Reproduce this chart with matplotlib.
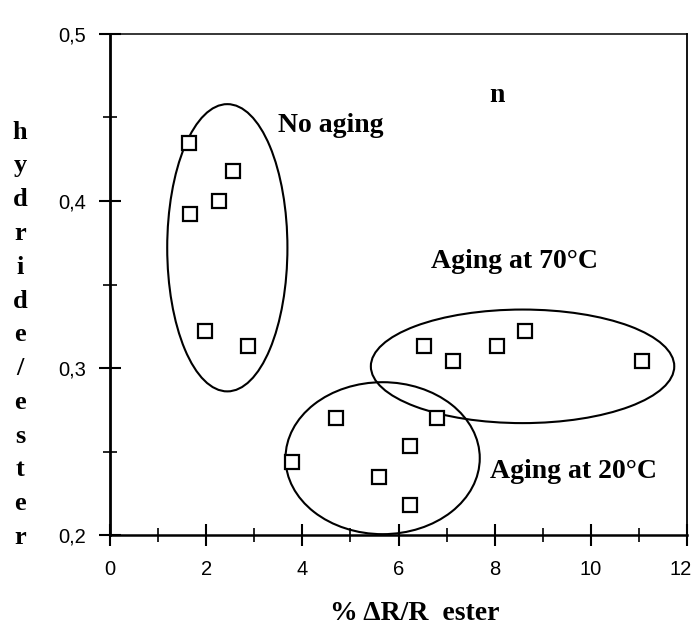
import matplotlib
matplotlib.use('Agg')
import matplotlib.pyplot as plt
from matplotlib.patches import Ellipse
from matplotlib.ticker import MultipleLocator, FuncFormatter

# measured points, % dR/R ester vs hydride/ester
no_aging_x = [1.65, 2.56, 2.27, 1.67, 1.98, 2.88]
no_aging_y = [0.435, 0.418, 0.400, 0.392, 0.322, 0.313]
aging70_x = [6.52, 7.13, 8.04, 8.63, 11.06]
aging70_y = [0.313, 0.304, 0.313, 0.322, 0.304]
aging20_x = [4.69, 3.79, 6.81, 6.23, 5.60, 6.23]
aging20_y = [0.270, 0.244, 0.270, 0.253, 0.235, 0.218]

# group outlines: (center x, center y, width, height)
groups = ['No aging', 'Aging at 70°C', 'Aging at 20°C']
ellipse_cx = [2.44, 8.58, 5.67]
ellipse_cy = [0.372, 0.301, 0.246]
ellipse_w = [2.5, 6.31, 4.04]
ellipse_h = [0.172, 0.068, 0.091]
label_x = [3.5, 6.67, 7.9]
label_y = [0.445, 0.364, 0.238]

ylabel_letters = list('hydride/ester')
x_max = 12

serif = 'Liberation Serif'
sans = 'Liberation Sans'
plt.rcParams['font.family'] = sans

fig = plt.figure(figsize=(6.96, 6.31), dpi=100)
ax = fig.add_axes([110 / 696, 96 / 631, 577 / 696, 501 / 631])

for xs, ys in [(no_aging_x, no_aging_y), (aging70_x, aging70_y), (aging20_x, aging20_y)]:
    ax.plot(xs, ys, ls='none', marker='s', ms=10.5, mfc='white', mec='black', mew=1.6, zorder=3)

for cx, cy, w, h in zip(ellipse_cx, ellipse_cy, ellipse_w, ellipse_h):
    ax.add_patch(Ellipse((cx, cy), w, h, fill=False, ec='black', lw=1.5, zorder=2))

for name, lx, ly in zip(groups, label_x, label_y):
    ax.text(lx, ly, name, family=serif, weight='bold', fontsize=20, va='center', ha='left')

ax.text(8.04, 0.463, 'n', family=serif, weight='bold', fontsize=20, ha='center', va='center')

ax.set_xlim(0, x_max)
ax.set_ylim(0.2, 0.5)
ax.xaxis.set_major_locator(MultipleLocator(2))
ax.xaxis.set_minor_locator(MultipleLocator(1))
ax.yaxis.set_major_locator(MultipleLocator(0.1))
ax.yaxis.set_minor_locator(MultipleLocator(0.05))
# the last x label is drawn separately, nudged left so it stays in the figure
ax.xaxis.set_major_formatter(FuncFormatter(lambda v, p: '' if v >= x_max else f'{v:.0f}'))
ax.yaxis.set_major_formatter(FuncFormatter(lambda v, p: f'{v:.1f}'.replace('.', ',')))

ax.tick_params(which='major', direction='inout', length=16, width=1.5, labelsize=14.5)
ax.tick_params(axis='y', which='major', pad=9)
ax.tick_params(axis='x', which='major', pad=10)
ax.tick_params(which='minor', direction='inout', length=10, width=1.2)

ax.annotate(f'{x_max}', xy=(x_max, 0), xycoords=('data', 'axes fraction'),
            xytext=(-6, -25), textcoords='offset pixels', ha='center', va='top',
            fontsize=14.5, family=sans)

ax.spines['left'].set_linewidth(2)
ax.spines['bottom'].set_linewidth(1.8)
ax.spines['right'].set_linewidth(1.3)
ax.spines['top'].set_linewidth(1.1)

# x label
fig.text(415 / 696, 1 - 613 / 631, '% \u0394R/R  ester', family=serif, weight='bold',
         fontsize=20, ha='center', va='center')

# stacked y label letters
y0 = 132
for i, ch in enumerate(ylabel_letters):
    fig.text(20 / 696, 1 - (y0 + i * 33.8) / 631, ch, family=serif, weight='bold',
             fontsize=19, ha='center', va='center')

fig.savefig('out.png', dpi=100)
